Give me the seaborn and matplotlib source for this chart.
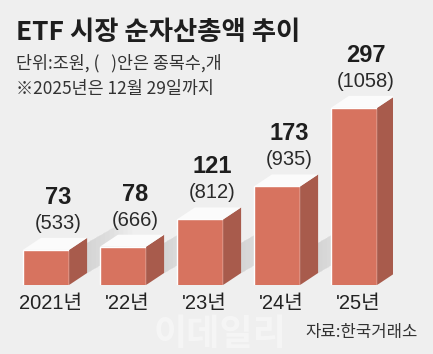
import numpy as np
import pandas as pd
import matplotlib
matplotlib.use('agg')
import seaborn as sns
import matplotlib.pyplot as plt
from matplotlib.patches import Polygon

years = ["2021년", "'22년", "'23년", "'24년", "'25년"]
assets = [73, 78, 121, 173, 297]      # 조원
counts = [533, 666, 812, 935, 1058]   # 종목수

FRONT = "#d7735f"
SIDE = "#a85b4c"
TOP = "#fbfbfb"
BG = "#efefef"

W, H = 433, 354

sns.set_theme(style="white")
plt.rcParams['font.family'] = ['Liberation Sans', 'Noto Sans CJK KR', 'DejaVu Sans']

fig = plt.figure(figsize=(W / 100, H / 100), dpi=100)
fig.patch.set_facecolor(BG)
ax = fig.add_axes([7.5 / W, 69 / H, 385 / W, 265 / H])
ax.set_facecolor('none')

df = pd.DataFrame({"year": years, "assets": assets, "counts": counts})
sns.barplot(data=df, x="year", y="assets", color=FRONT, saturation=1,
            width=0.6, ax=ax, zorder=3)

base = 17.6
ax.set_xlim(-0.5, len(years) - 0.5)
ax.set_ylim(base, base + 265 / 0.634)
ax.axis('off')

# pixel -> data units
bb = ax.get_window_extent()
px_x = bb.width / (len(years))
px_y = bb.height / (ax.get_ylim()[1] - base)
dx, dy = 18 / px_x, 12 / px_y

for p in ax.patches:
    x0 = p.get_x()
    x1 = x0 + p.get_width()
    top = p.get_height()

    # floor shadow, fading out to the upper right
    sh = min(30 / px_y, top - base)
    n = 10
    for k in range(n):
        L = (k + 1) / n * 45 / px_x
        Ly = (k + 1) / n * 26 / px_y
        ax.add_patch(Polygon([(x1 + dx, base + dy), (x1 + dx, base + dy + sh),
                              (x1 + dx + L, base + dy + sh + Ly),
                              (x1 + dx + L, base + dy + Ly)],
                             closed=True, facecolor="#b8b8b8", edgecolor='none',
                             alpha=0.05, zorder=1))

    ax.add_patch(Polygon([(x1, base), (x1 + dx, base + dy), (x1 + dx, top + dy), (x1, top)],
                         closed=True, facecolor=SIDE, edgecolor='none', zorder=3))
    ax.add_patch(Polygon([(x0, top), (x0 + dx, top + dy), (x1 + dx, top + dy), (x1, top)],
                         closed=True, facecolor=TOP, edgecolor='none', zorder=3))

for i, (v, c) in enumerate(zip(assets, counts)):
    cx = i + 12 / px_x
    ax.text(cx, v + 46 / px_y, str(v), ha='center', va='baseline', fontsize=17,
            fontweight='bold', color='#1e1e1e')
    ax.text(cx, v + 21 / px_y, "({})".format(c), ha='center', va='baseline',
            fontsize=14.5, color='#2a2a2a')
    ax.text(i + 4 / px_x, base - 24 / px_y, years[i], ha='center', va='baseline',
            fontsize=14.5, color='#222222')

# header
fig.text(16 / W, 1 - 40 / H, "ETF 시장 순자산총액 추이", fontsize=19, fontweight='bold',
         color='#1e1e1e', ha='left', va='baseline',
         family=['Noto Sans CJK KR', 'DejaVu Sans'])
fig.text(16 / W, 1 - 63 / H, "단위:조원, (   )안은 종목수,개", fontsize=12.5,
         color='#333333', ha='left', va='center',
         family=['Noto Sans CJK KR', 'DejaVu Sans'])
fig.text(16 / W, 1 - 89 / H, "※2025년은 12월 29일까지", fontsize=12.5,
         color='#333333', ha='left', va='center',
         family=['Noto Sans CJK KR', 'DejaVu Sans'])

# watermark and source
fig.text(220 / W, 1 - 334 / H, "이데일리", fontsize=26, fontweight='bold',
         color='white', alpha=0.4, ha='center', va='center',
         family=['Noto Sans CJK KR'], zorder=0)
fig.text(418 / W, 1 - 333 / H, "자료:한국거래소", fontsize=12, color='#333333',
         ha='right', va='center', family=['Noto Sans CJK KR', 'DejaVu Sans'])

fig.savefig("out.png", dpi=100, facecolor=BG)
